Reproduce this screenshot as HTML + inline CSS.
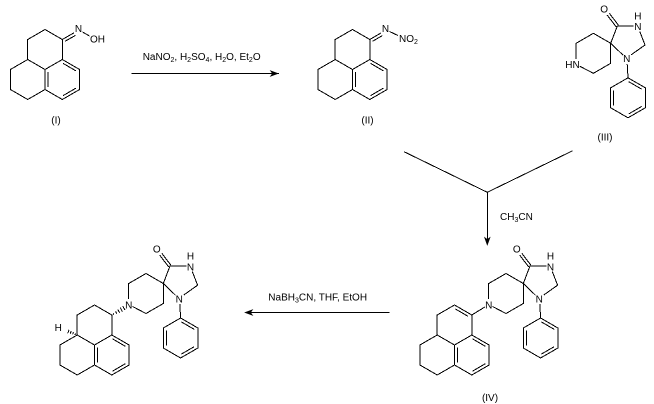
<!DOCTYPE html>
<html>
<head>
<meta charset="utf-8">
<style>
  html, body { margin: 0; padding: 0; background: #fff; }
  svg { display: block; }
  text { font-family: "Liberation Sans", Arial, sans-serif; font-size: 10px; fill: #000; }
</style>
</head>
<body>
<svg width="654" height="404" viewBox="0 0 654 404" xmlns="http://www.w3.org/2000/svg">
  <rect width="654" height="404" fill="#fff"/>
  <g fill="none" stroke="#000" stroke-width="1" shape-rendering="crispEdges">

    <!-- Structure I skeleton -->
    <path d="M27.7,59.5 L27.7,39.5 L45,29.5 L62.3,39.5 L62.3,59.5 L79.6,69.5 L79.6,89.5 L62.3,99.5 L45,89.5 L27.7,99.5 L10.4,89.5 L10.4,69.5 Z
             M45,69.5 L27.7,59.5 M45,69.5 L62.3,59.5 M45,69.5 L45,89.5
             M63,63.35 L75.9,70.85 M75.9,88.15 L63,95.65 M48,72 L48,87"/>
    <!-- C=N in I -->
    <path d="M62.3,39.5 L74,32.8 M65.2,41.2 L75.4,35.4"/>
    <!-- N-O -->
    <path d="M82.5,32 L89.5,36"/>

    <!-- Structure II skeleton -->
    <g transform="translate(307.5,0)">
      <path d="M27.7,59.5 L27.7,39.5 L45,29.5 L62.3,39.5 L62.3,59.5 L79.6,69.5 L79.6,89.5 L62.3,99.5 L45,89.5 L27.7,99.5 L10.4,89.5 L10.4,69.5 Z
               M45,69.5 L27.7,59.5 M45,69.5 L62.3,59.5 M45,69.5 L45,89.5
               M63,63.35 L75.9,70.85 M75.9,88.15 L63,95.65 M48,72 L48,87"/>
      <path d="M62.3,39.5 L73.5,33 M65.2,41.2 L74.8,35.6"/>
    </g>
    <!-- N-N in II -->
    <path d="M389.5,31.5 L398,35.5"/>

    <!-- Spiro part III -->
    <g transform="translate(610.7,43.3)">
      <path d="M0,0 L-17.3,-10 L-34.6,0 L-34.6,15.5 M-30.8,23 L-17.3,30 L0,20 L0,0
               M0,0 L6.6,-17.3 L23,-17.3 M29,-12 L34.3,1.7 L20.5,11.5 M0,0 L12.3,11.8 M16.5,20.5 L17.3,34.5
               M5.5,-16.45 L-3.6,-28.35 M7.7,-18.15 L-1.4,-30.05
               M17.3,34.5 L34.6,44.5 L34.6,64.5 L17.3,74.5 L0,64.5 L0,44.5 Z
               M18,38.35 L30.9,45.85 M30.9,63.15 L18,70.65 M3,47 L3,62"/>
    </g>

    <!-- Spiro part IV -->
    <g transform="translate(523.3,283.5)">
      <path d="M0,0 L-17.3,-10 L-34.6,0 L-34.6,15.5 M-30.8,23 L-17.3,30 L0,20 L0,0
               M0,0 L6.6,-17.3 L23,-17.3 M29,-12 L34.3,1.7 L20.5,11.5 M0,0 L12.3,11.8 M16.5,20.5 L17.3,34.5
               M5.5,-16.45 L-3.6,-28.35 M7.7,-18.15 L-1.4,-30.05
               M17.3,34.5 L34.6,44.5 L34.6,64.5 L17.3,74.5 L0,64.5 L0,44.5 Z
               M18,38.35 L30.9,45.85 M30.9,63.15 L18,70.65 M3,47 L3,62"/>
    </g>
    <!-- Phenalene IV -->
    <path d="M437.2,335 L437.2,315 L454.5,305 L471.8,315 L471.8,335 L489.1,345 L489.1,365 L471.8,375 L454.5,365 L437.2,375 L419.9,365 L419.9,345 Z
             M454.5,345 L437.2,335 M454.5,345 L471.8,335 M454.5,345 L454.5,365
             M455.2,308.85 L468.1,316.35
             M472.5,338.85 L485.4,346.35 M485.4,363.65 L472.5,371.15 M457.5,347.5 L457.5,362.5
             M471.8,315 L484.8,307"/>

    <!-- Spiro part V -->
    <g transform="translate(163.3,283.5)">
      <path d="M0,0 L-17.3,-10 L-34.6,0 L-34.6,15.5 M-30.8,23 L-17.3,30 L0,20 L0,0
               M0,0 L6.6,-17.3 L23,-17.3 M29,-12 L34.3,1.7 L20.5,11.5 M0,0 L12.3,11.8 M16.5,20.5 L17.3,34.5
               M5.5,-16.45 L-3.6,-28.35 M7.7,-18.15 L-1.4,-30.05
               M17.3,34.5 L34.6,44.5 L34.6,64.5 L17.3,74.5 L0,64.5 L0,44.5 Z
               M18,38.35 L30.9,45.85 M30.9,63.15 L18,70.65 M3,47 L3,62"/>
    </g>
    <!-- Phenalene V -->
    <path d="M77.2,335 L77.2,315 L94.5,305 L111.8,315 L111.8,335 L129.1,345 L129.1,365 L111.8,375 L94.5,365 L77.2,375 L59.9,365 L59.9,345 Z
             M94.5,345 L77.2,335 M94.5,345 L111.8,335 M94.5,345 L94.5,365
             M112.5,338.85 L125.4,346.35 M125.4,363.65 L112.5,371.15 M97.5,347.5 L97.5,362.5"/>
    <!-- hashed wedge to N -->
    <path d="M113.1,313.3 L113.9,314.7 M115.5,311.4 L116.7,313.6 M117.8,309.5 L119.6,312.7 M120.2,307.6 L122.4,311.6 M122.7,306 L124.9,310"/>
    <!-- hashed wedge to H -->
    <path d="M75,334.9 L75.6,333.6 M72.6,334.3 L73.4,332.3 M70.1,333.8 L71.3,331 M67.7,333.3 L69.1,329.7"/>

    <!-- Arrows -->
    <path d="M131.7,73.5 H279"/>
    <path d="M404,151.7 L487.3,192.3 L572.7,150.7 M487.3,192.3 V240"/>
    <path d="M249,312.5 H389.3"/>
  </g>

  <!-- Arrowheads -->
  <g fill="#000" stroke="#000" stroke-width="0.6">
    <polygon points="278,73.5 270.5,70.8 272.5,73.5 270.5,76.2"/>
    <polygon points="487.3,245 484.6,237.5 487.3,239.5 490,237.5"/>
    <polygon points="245,312.5 252.5,309.8 250.5,312.5 252.5,315.2"/>
  </g>

  <!-- Atom labels I -->
  <text x="78.5" y="32" text-anchor="middle">N</text>
  <text x="90" y="42.5">OH</text>

  <!-- Atom labels II -->
  <text x="385.5" y="32" text-anchor="middle">N</text>
  <text x="399" y="42">NO<tspan font-size="7" dy="2">2</tspan></text>

  <!-- Atom labels III -->
  <g transform="translate(610.7,43.3)">
    <text x="-6.6" y="-30.8" text-anchor="middle">O</text>
    <text x="27.2" y="-23.8" text-anchor="middle">H</text>
    <text x="27.2" y="-13.2" text-anchor="middle">N</text>
    <text x="16" y="18.8" text-anchor="middle">N</text>
    <text x="-31" y="24.8" text-anchor="end">HN</text>
  </g>

  <!-- Atom labels IV -->
  <g transform="translate(523.3,283.5)">
    <text x="-6.6" y="-30.8" text-anchor="middle">O</text>
    <text x="27.2" y="-23.8" text-anchor="middle">H</text>
    <text x="27.2" y="-13.2" text-anchor="middle">N</text>
    <text x="16" y="18.8" text-anchor="middle">N</text>
    <text x="-34.6" y="24.8" text-anchor="middle">N</text>
  </g>

  <!-- Atom labels V -->
  <g transform="translate(163.3,283.5)">
    <text x="-6.6" y="-30.8" text-anchor="middle">O</text>
    <text x="27.2" y="-23.8" text-anchor="middle">H</text>
    <text x="27.2" y="-13.2" text-anchor="middle">N</text>
    <text x="16" y="18.8" text-anchor="middle">N</text>
    <text x="-34.6" y="24.8" text-anchor="middle">N</text>
  </g>
  <text x="58.3" y="331" text-anchor="middle">H</text>

  <!-- Reaction conditions -->
  <text x="142.7" y="60">NaNO<tspan font-size="7" dy="2">2</tspan><tspan dy="-2">, H</tspan><tspan font-size="7" dy="2">2</tspan><tspan dy="-2">SO</tspan><tspan font-size="7" dy="2">4</tspan><tspan dy="-2">, H</tspan><tspan font-size="7" dy="2">2</tspan><tspan dy="-2">O, Et</tspan><tspan font-size="7" dy="2">2</tspan><tspan dy="-2">O</tspan></text>
  <text x="500" y="220">CH<tspan font-size="7" dy="2">3</tspan><tspan dy="-2">CN</tspan></text>
  <text x="268.3" y="300.5">NaBH<tspan font-size="7" dy="2">3</tspan><tspan dy="-2">CN, THF, EtOH</tspan></text>

  <!-- Compound labels -->
  <text x="56" y="123.5" text-anchor="middle">(I)</text>
  <text x="367.5" y="123.5" text-anchor="middle">(II)</text>
  <text x="605" y="140.5" text-anchor="middle">(III)</text>
  <text x="490" y="401" text-anchor="middle">(IV)</text>
</svg>
</body>
</html>
